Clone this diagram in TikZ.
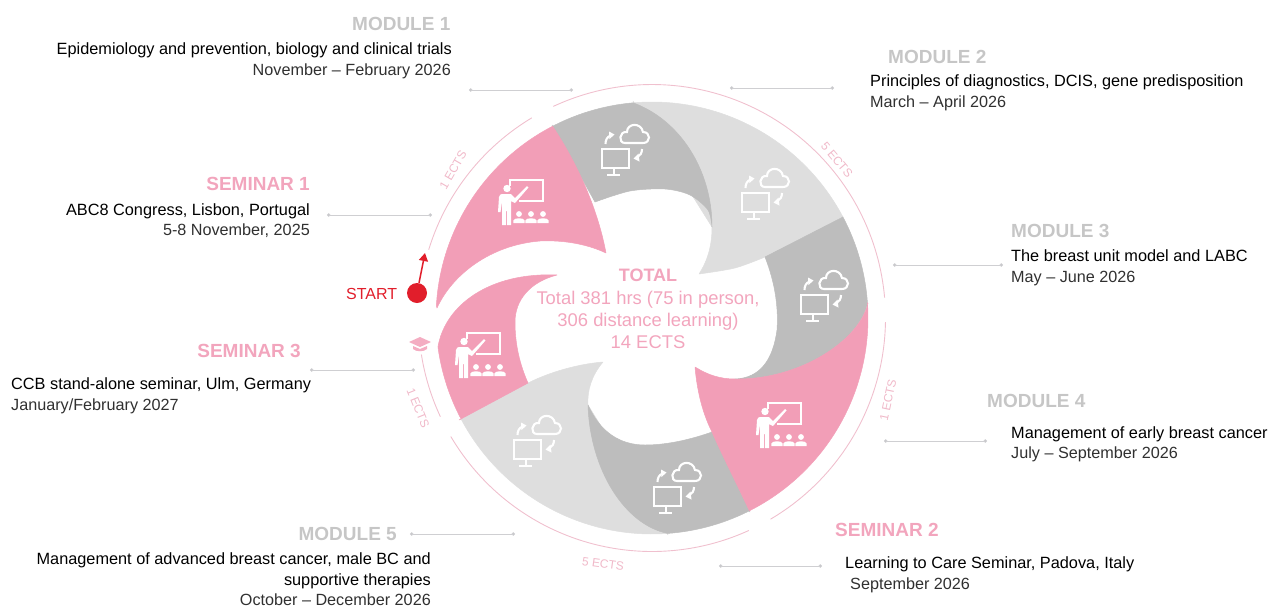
\documentclass[tikz,border=0pt]{standalone}
\usepackage{fontspec}
\setmainfont{Liberation Sans}
\usetikzlibrary{arrows.meta}
\definecolor{pk}{HTML}{F29EB7}
\definecolor{pktext}{HTML}{F2A5BD}
\definecolor{dg}{HTML}{BDBDBD}
\definecolor{lg}{HTML}{DEDEDE}
\definecolor{headg}{HTML}{C6C6C6}
\definecolor{ringc}{HTML}{F0C0CE}
\definecolor{linkc}{HTML}{CFCFD2}
\definecolor{redc}{HTML}{E11E2B}
\definecolor{sub}{HTML}{303030}
\newcommand{\rarc}[2]{\draw[ringline] plot[domain=#1:#2,samples=80] ({652+233.5*cos(\x)},{318-233.5*sin(\x)});}
\tikzset{
  oa/.style 2 args={domain=#1:#2,samples=60},
  pkseg/.style={fill=pk,draw=pk,line width=.5pt,line join=round},
  dgseg/.style={fill=dg,draw=dg,line width=.5pt,line join=round},
  lgseg/.style={fill=lg,draw=lg,line width=.5pt,line join=round},
  ringline/.style={draw=ringc,line width=0.9pt},
  link/.style={draw=linkc,line width=0.9pt,{Circle[length=3.4pt,fill=linkc!85!black]}-{Circle[length=3.4pt,fill=linkc!85!black]}},
  headw/.style={font=\fontsize{19}{19}\selectfont\bfseries,text=headg,inner sep=0pt},
  heads/.style={font=\fontsize{19}{19}\selectfont\bfseries,text=pktext,inner sep=0pt},
  mainl/.style={font=\fontsize{16.3}{16.3}\selectfont,text=black,inner sep=0pt},
  subl/.style={font=\fontsize{16.2}{16.2}\selectfont,text=sub,inner sep=0pt},
  ects/.style={font=\fontsize{12}{12}\selectfont,text=ringc!80!pk,inner sep=0pt},
  totl/.style={font=\fontsize{18.4}{18.4}\selectfont,text=pktext,inner sep=0pt,anchor=base},
  wline/.style={draw=white,line width=2.1pt},
  classroom/.pic={
    \draw[white,line width=1.7pt] (20,16)--(20,10)--(53,10)--(53,31)--(29,31);
    \fill[white] (17,18.5) circle (3.7);
    \fill[white] (8,42) -- (9,27) .. controls (9.5,25) and (10.5,24) .. (12,24) -- (21,24) -- (25,28) -- (37,16) -- (38.5,17.5) -- (25,33) -- (21,31) -- (21,55) -- (17,55) -- (17,41) -- (16,41) -- (16,55) -- (12,55) -- (12,32) -- (10.5,42) -- cycle;
    \foreach \c in {29,41,53}{
      \fill[white] (\c,44) circle (2.9);
      \fill[white] (\c-5.7,53) -- (\c-5.7,50.5) .. controls (\c-5,47.5) and (\c+5,47.5) .. (\c+5.7,50.5) -- (\c+5.7,53) -- cycle;
    }
  },
  cloudpc/.pic={
    \draw[wline] (12,29) rectangle (39,48);
    \draw[wline] (24,48)--(24,54);
    \draw[wline] (17,55)--(30,55);
    \draw[wline] (35,23) -- (53,23) .. controls (61,23) and (61,12) .. (53,12) .. controls (51,2) and (37,3) .. (37,12) .. controls (29,11) and (28,23) .. (35,23) -- cycle;
    \draw[wline] (15.5,24) .. controls (15.5,20) and (17,17) .. (20.5,15.5);
    \fill[white] (24.5,14.5) -- (19,11.5) -- (19.5,19) -- cycle;
    \draw[wline] (52,29) .. controls (52,33) and (50,36) .. (47.5,37);
    \fill[white] (43.5,38.5) -- (48.5,33.5) -- (49.5,41.5) -- cycle;
  }
}
\begin{document}
\begin{tikzpicture}[x=1pt,y=-1pt]
\useasboundingbox (0,0) rectangle (1272,606);
% segments
\path[lgseg] (633,101) -- plot[oa={95}{27.9}] ({652+216*cos(\x)},{318-216*sin(\x)}) -- (765,257) -- plot[smooth] coordinates {(765,257) (735,268) (699,274)} .. controls (708,260) and (712,245) .. (712,227) -- cycle;
\path[dgseg] (552,125) -- plot[oa={117.4}{95}] ({652+216*cos(\x)},{318-216*sin(\x)}) .. controls (680,120) and (712,170) .. (712,227) -- plot[smooth] coordinates {(712,227) (708,210) (690,195) (665,189) (630,191) (595,202)} -- cycle;
\path[dgseg] (843,217) -- plot[oa={27.9}{4}] ({652+216*cos(\x)},{318-216*sin(\x)}) .. controls (860,340) and (800,380) .. (735,379) .. controls (760,378) and (773,360) .. (777,330) .. controls (779,300) and (772,275) .. (765,257) -- cycle;
\path[lgseg] (668,535) -- plot[oa={-85.8}{-152.1}] ({652+216*cos(\x)},{318-216*sin(\x)}) -- (528,383) .. controls (550,372) and (578,364) .. (603,362) .. controls (592,375) and (587,390) .. (588,405) -- cycle;
\path[dgseg] (750,512) -- plot[oa={-63.2}{-85.8}] ({652+216*cos(\x)},{318-216*sin(\x)}) .. controls (625,525) and (590,470) .. (588,405) .. controls (600,432) and (620,445) .. (645,445) .. controls (670,445) and (695,438) .. (712,432) -- cycle;
\path[pkseg] (868,303) -- plot[oa={4}{-63.2}] ({652+216*cos(\x)},{318-216*sin(\x)}) .. controls (735,480) and (722,455) .. (712,432) .. controls (702,412) and (697,390) .. (695,367) .. controls (708,375) and (720,379) .. (735,379) .. controls (800,380) and (860,340) .. (868,303) -- cycle;
\path[pkseg] (459,420) -- plot[oa={207.9}{187.7}] ({652+216*cos(\x)},{318-216*sin(\x)}) .. controls (445,305) and (490,272) .. (557,275) .. controls (530,282) and (515,300) .. (515,322) .. controls (515,345) and (520,365) .. (528,383) -- cycle;
\path[pkseg] (437,308) -- plot[oa={176.7}{117.4}] ({652+216*cos(\x)},{318-216*sin(\x)}) .. controls (575,160) and (597,205) .. (606,253) .. controls (585,243) and (560,240) .. (540,241) .. controls (490,245) and (452,275) .. (437,308) -- cycle;
% ring
\rarc{163}{121}
\rarc{115}{5}
\rarc{-1}{-59.5}
\rarc{-65.5}{-149.5}
\rarc{-155}{-171}
% icons
\pic at (490,170) {classroom};
\pic at (447,323) {classroom};
\pic at (748,393) {classroom};
\pic at (590,120) {cloudpc};
\pic at (730,164) {cloudpc};
\pic at (789,266) {cloudpc};
\pic at (642,458) {cloudpc};
\pic at (502,411) {cloudpc};
% hat
\fill[pk!85!white] (409,342) -- (420,337) -- (431,342) -- (420,347) -- cycle;
\fill[pk!85!white] (413,346) -- (420,349) -- (427,346) -- (427,349) .. controls (424,352) and (416,352) .. (413,349) -- cycle;
% titles and lines
\node[headw,anchor=base west] (m1t) at (352,30) {MODULE 1};
\node[mainl,anchor=base east] (m1a) at (452,54) {Epidemiology and prevention, biology and clinical trials};
\node[subl,anchor=base east] (m1b) at (451,75) {November – February 2026};
\node[headw,anchor=base west] (m2t) at (888,63) {MODULE 2};
\node[mainl,anchor=base west] (m2a) at (870,86) {Principles of diagnostics, DCIS, gene predisposition};
\node[subl,anchor=base west] (m2b) at (870,107) {March – April 2026};
\node[headw,anchor=base west] (m3t) at (1011,237) {MODULE 3};
\node[mainl,anchor=base west] (m3a) at (1011,261) {The breast unit model and LABC};
\node[subl,anchor=base west] (m3b) at (1011,282) {May – June 2026};
\node[headw,anchor=base west] (m4t) at (987,407) {MODULE 4};
\node[mainl,anchor=base west] (m4a) at (1011,438) {Management of early breast cancer};
\node[subl,anchor=base west] (m4b) at (1011,458) {July – September 2026};
\node[heads,anchor=base west] (s2t) at (835,536) {SEMINAR 2};
\node[mainl,anchor=base west] (s2a) at (845,568) {Learning to Care Seminar, Padova, Italy};
\node[subl,anchor=base west] (s2b) at (850,589) {September 2026};
\node[headw,anchor=base east] (m5t) at (397,540) {MODULE 5};
\node[mainl,anchor=base east] (m5a) at (431,564) {Management of advanced breast cancer, male BC and};
\node[mainl,anchor=base east] (m5c) at (431,585) {supportive therapies};
\node[subl,anchor=base east] (m5b) at (431,605) {October – December 2026};
\node[heads,anchor=base east] (s3t) at (301,357) {SEMINAR 3};
\node[mainl,anchor=base west] (s3a) at (11,389) {CCB stand-alone seminar, Ulm, Germany};
\node[subl,anchor=base west] (s3b) at (11,410) {January/February 2027};
\node[heads,anchor=base east] (s1t) at (310,190) {SEMINAR 1};
\node[mainl,anchor=base east] (s1a) at (310,215) {ABC8 Congress, Lisbon, Portugal};
\node[subl,anchor=base east] (s1b) at (310,235) {5-8 November, 2025};
% centre
\node[totl,font=\fontsize{18}{18}\selectfont\bfseries] (tt) at (648,281) {TOTAL};
\node[totl] (t1) at (648,304) {Total 381 hrs (75 in person,};
\node[totl] (t2) at (648,326) {306 distance learning)};
\node[totl] (t3) at (648,348) {14 ECTS};
% ECTS
\node[ects,rotate=60] (e1) at (453,170) {1 ECTS};
\node[ects,rotate=-50] (e2) at (837,160) {5 ECTS};
\node[ects,rotate=78] (e3) at (888,400) {1 ECTS};
\node[ects,rotate=-68] (e4) at (418,408) {1 ECTS};
\node[ects,rotate=-8] (e5) at (603,564) {5 ECTS};
% connectors
\coordinate (a1) at (469,90); \coordinate (b1) at (573,90);
\coordinate (a2) at (730,88); \coordinate (b2) at (834,88);
\coordinate (a3) at (893,265); \coordinate (b3) at (1003,265);
\coordinate (a4) at (884,441); \coordinate (b4) at (987,441);
\coordinate (a5) at (719,566); \coordinate (b5) at (822,566);
\coordinate (a6) at (410,534); \coordinate (b6) at (515,534);
\coordinate (a7) at (310,370); \coordinate (b7) at (415,370);
\coordinate (a8) at (327,215); \coordinate (b8) at (432,215);
\foreach \i in {1,...,8}{\draw[link] (a\i) -- (b\i);}
% start
\node[font=\fontsize{16}{16}\selectfont,text=redc,inner sep=0pt,anchor=base west] (st) at (346,299) {START};
\node[circle,fill=redc,minimum size=20pt,inner sep=0pt] (sd) at (417,293) {};
\coordinate (sa) at (425,253);
\draw[draw=redc,line width=1.5pt,-{Triangle[length=8pt,width=9pt]}] (sd) -- (sa);
\end{tikzpicture}
\end{document}
